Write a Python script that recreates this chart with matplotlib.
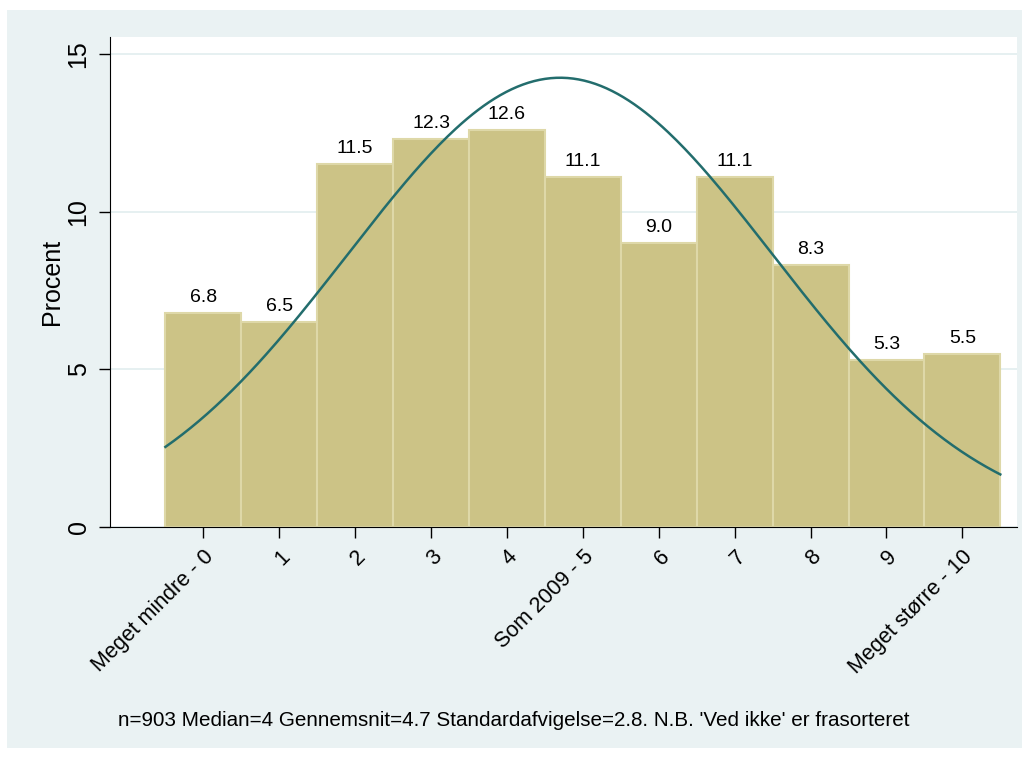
import numpy as np
import matplotlib.pyplot as plt
from matplotlib.patches import Rectangle

plt.rcParams['font.family'] = ['Liberation Sans', 'DejaVu Sans']

# --- data ---
scores = [0, 1, 2, 3, 4, 5, 6, 7, 8, 9, 10]
percent = [6.8, 6.5, 11.5, 12.3, 12.6, 11.1, 9.0, 11.1, 8.3, 5.3, 5.5]
tick_labels = ['Meget mindre - 0', '1', '2', '3', '4', 'Som 2009 - 5',
               '6', '7', '8', '9', 'Meget større - 10']
mean = 4.7
sd = 2.8
note = "n=903 Median=4 Gennemsnit=4.7 Standardafvigelse=2.8. N.B. 'Ved ikke' er frasorteret"

W, H = 1029, 758
fig = plt.figure(figsize=(W / 100, H / 100), dpi=100, facecolor='white')
# light outer frame like stata's s2color
fig.patches.append(Rectangle((7 / W, 1 - 748 / H), (1022 - 7) / W, (748 - 10) / H,
                             transform=fig.transFigure, facecolor='#EAF2F3',
                             edgecolor='none', zorder=-5))

ax = fig.add_axes([110 / W, 1 - 527 / H, (1017 - 110) / W, (527 - 37) / H])
ax.set_facecolor('white')

ax.bar(scores, percent, width=1.0, color='#CCC386', edgecolor='#DED8A8',
       linewidth=1.5, zorder=2)

# normal density scaled to percent
xs = np.linspace(-0.5, 10.5, 300)
ys = 100 / (sd * np.sqrt(2 * np.pi)) * np.exp(-0.5 * ((xs - mean) / sd) ** 2)
ax.plot(xs, ys, color='#236D6D', lw=1.8, zorder=3)

for x, v in zip(scores, percent):
    ax.text(x, v + 0.22, f'{v:.1f}', ha='center', va='bottom', fontsize=14, zorder=4)

ax.set_xlim(-1.23, 10.72)
ax.set_ylim(0, 15.54)
ax.set_yticks([0, 5, 10, 15])
ax.set_yticklabels(['0', '5', '10', '15'], rotation=90, va='center', fontsize=18)
ax.set_xticks(scores)
ax.set_xticklabels(tick_labels, rotation=45, ha='right', rotation_mode='anchor', fontsize=15.5)
ax.tick_params(axis='both', length=8, width=1, direction='out', pad=6)
ax.set_ylabel('Procent', fontsize=18, labelpad=2)

ax.grid(axis='y', color='#E2EDEF', lw=1.2, zorder=0)
ax.set_axisbelow(True)
for s in ['top', 'right']:
    ax.spines[s].set_visible(False)

fig.text(118 / W, 1 - 720 / H, note, fontsize=14.9, va='center', ha='left')

fig.savefig('out.png', dpi=100, facecolor='white')
